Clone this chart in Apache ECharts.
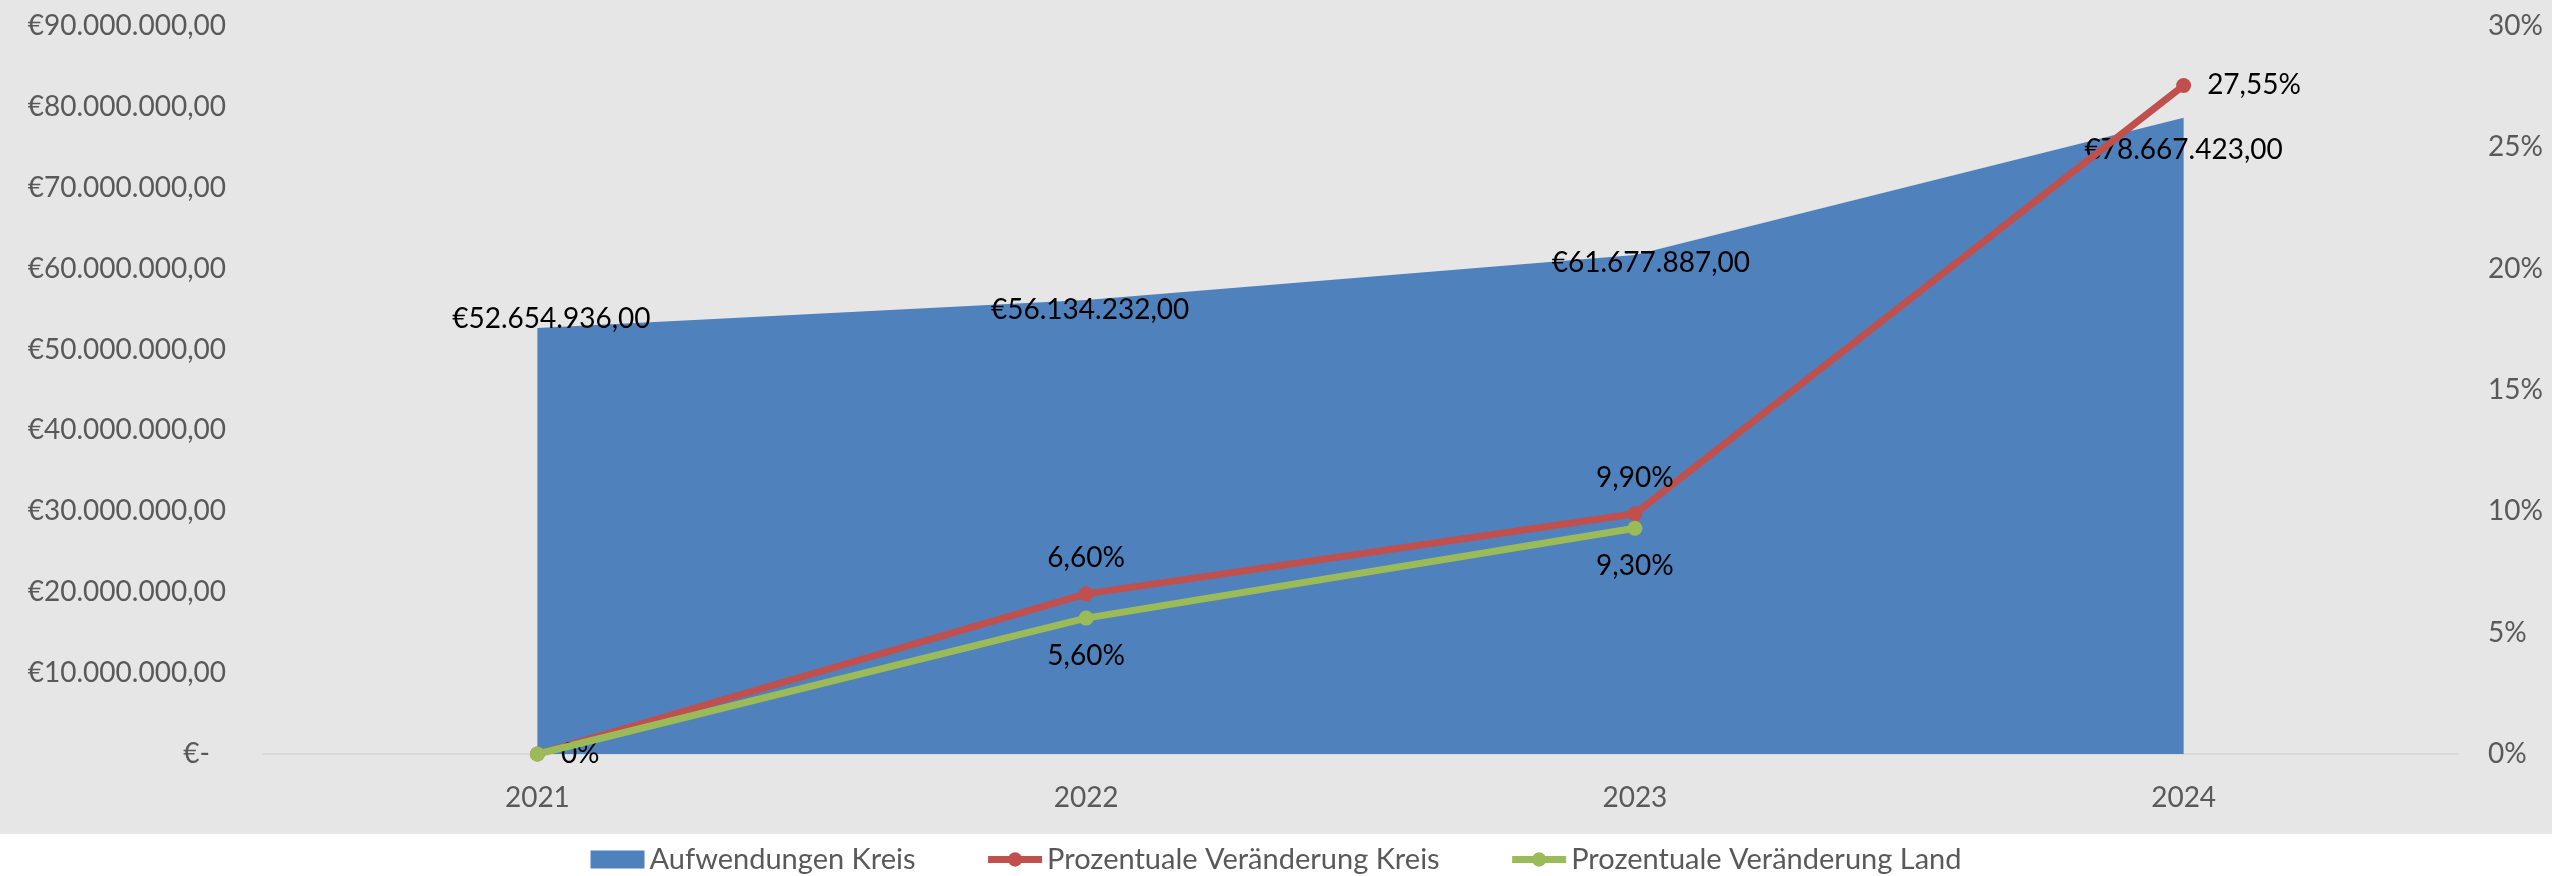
<!DOCTYPE html>
<html>
<head>
<meta charset="utf-8">
<script src="https://cdn.jsdelivr.net/npm/echarts@6/dist/echarts.min.js"></script>
<style>
  html, body { margin: 0; padding: 0; background: #ffffff; }
  #chart { width: 2552px; height: 876px; }
</style>
</head>
<body>
<div id="chart"></div>
<script>
const years = ["2021", "2022", "2023", "2024"];
const aufwendungenKreis = [52654936, 56134232, 61677887, 78667423];
const veraenderungKreis = [0, 6.6, 9.9, 27.55];
const veraenderungLand = [0, 5.6, 9.3, null];
const seriesNames = ["Aufwendungen Kreis", "Prozentuale Veränderung Kreis", "Prozentuale Veränderung Land"];

const FONT = "Lato";
const GREY_TEXT = "#595959";

function germanNumber(value, decimals) {
    const fixed = Number(value).toFixed(decimals);
    const parts = fixed.split(".");
    const whole = parts[0].replace(/\B(?=(\d{3})+(?!\d))/g, ".");
    return parts.length > 1 ? whole + "," + parts[1] : whole;
}

function euro(value) {
    return "€" + germanNumber(value, 2);
}

function percent(value) {
    if (value === 0) {
        return "0%";
    }
    return germanNumber(value, 2) + "%";
}

// label nudges for the area labels (Excel places them a bit off the points)
const areaLabelOffsets = [[14, -9], [4, 10], [16, 8], [0, 32]];

const chart = echarts.init(document.getElementById("chart"), null, { renderer: "canvas" });

const option = {
    animation: false,
    backgroundColor: "#ffffff",
    textStyle: { fontFamily: FONT },
    graphic: [
        {
            type: "rect",
            z: -10,
            silent: true,
            shape: { x: 0, y: 0, width: 2552, height: 834 },
            style: { fill: "#e6e6e6" }
        }
    ],
    grid: {
        left: 263,
        right: 94,
        top: 26,
        bottom: 122
    },
    legend: {
        top: 840,
        left: "center",
        itemWidth: 54,
        itemHeight: 18,
        itemGap: 69,
        lineStyle: { width: 7 },
        textStyle: {
            fontFamily: FONT,
            fontSize: 29,
            color: GREY_TEXT
        },
        data: [
            { name: seriesNames[0], icon: "rect" },
            { name: seriesNames[1] },
            { name: seriesNames[2] }
        ]
    },
    xAxis: {
        type: "category",
        data: years,
        boundaryGap: true,
        axisTick: { show: false },
        axisLine: { lineStyle: { color: "#d9d9d9", width: 2 } },
        axisLabel: {
            color: GREY_TEXT,
            fontFamily: FONT,
            fontSize: 28,
            margin: 30
        }
    },
    yAxis: [
        {
            type: "value",
            min: 0,
            max: 90000000,
            interval: 10000000,
            splitLine: { show: false },
            axisLine: { show: false },
            axisTick: { show: false },
            axisLabel: {
                color: GREY_TEXT,
                fontFamily: FONT,
                fontSize: 28,
                margin: 37,
                formatter: function (value) {
                    if (value === 0) {
                        return "{z|€-}";
                    }
                    return euro(value);
                },
                rich: {
                    z: {
                        color: GREY_TEXT,
                        fontFamily: FONT,
                        fontSize: 28,
                        padding: [0, 16, 0, 0]
                    }
                }
            }
        },
        {
            type: "value",
            min: 0,
            max: 30,
            interval: 5,
            position: "right",
            splitLine: { show: false },
            axisLine: { show: false },
            axisTick: { show: false },
            axisLabel: {
                color: GREY_TEXT,
                fontFamily: FONT,
                fontSize: 28,
                margin: 30,
                formatter: "{value}%"
            }
        }
    ],
    series: [
        {
            name: seriesNames[0],
            type: "line",
            yAxisIndex: 0,
            z: 1,
            symbol: "circle",
            symbolSize: 0,
            lineStyle: { width: 0, color: "#4f81bd" },
            itemStyle: { color: "#4f81bd" },
            areaStyle: { color: "#4f81bd", opacity: 1 },
            data: aufwendungenKreis.map(function (v, i) {
                return {
                    value: v,
                    label: { offset: areaLabelOffsets[i] }
                };
            }),
            label: {
                show: true,
                position: "inside",
                color: "#000000",
                fontFamily: FONT,
                fontSize: 28,
                formatter: function (p) {
                    return euro(p.value);
                }
            }
        },
        {
            name: seriesNames[1],
            type: "line",
            yAxisIndex: 1,
            z: 3,
            symbol: "circle",
            symbolSize: 15,
            lineStyle: { width: 7, color: "#c0504d" },
            itemStyle: { color: "#c0504d" },
            data: veraenderungKreis.map(function (v, i) {
                if (i === 0 || i === veraenderungKreis.length - 1) {
                    return { value: v, label: { position: "right", distance: 16 } };
                }
                return v;
            }),
            label: {
                show: true,
                position: "top",
                distance: 14,
                color: "#000000",
                fontFamily: FONT,
                fontSize: 28,
                formatter: function (p) {
                    return percent(p.value);
                }
            }
        },
        {
            name: seriesNames[2],
            type: "line",
            yAxisIndex: 1,
            z: 4,
            symbol: "circle",
            symbolSize: 15,
            lineStyle: { width: 7, color: "#9bbb59" },
            itemStyle: { color: "#9bbb59" },
            data: veraenderungLand.map(function (v, i) {
                if (i === 0) {
                    return { value: v, label: { show: false } };
                }
                return v;
            }),
            label: {
                show: true,
                position: "bottom",
                distance: 16,
                color: "#000000",
                fontFamily: FONT,
                fontSize: 28,
                formatter: function (p) {
                    return percent(p.value);
                }
            }
        }
    ]
};

chart.setOption(option, true);
</script>
</body>
</html>
